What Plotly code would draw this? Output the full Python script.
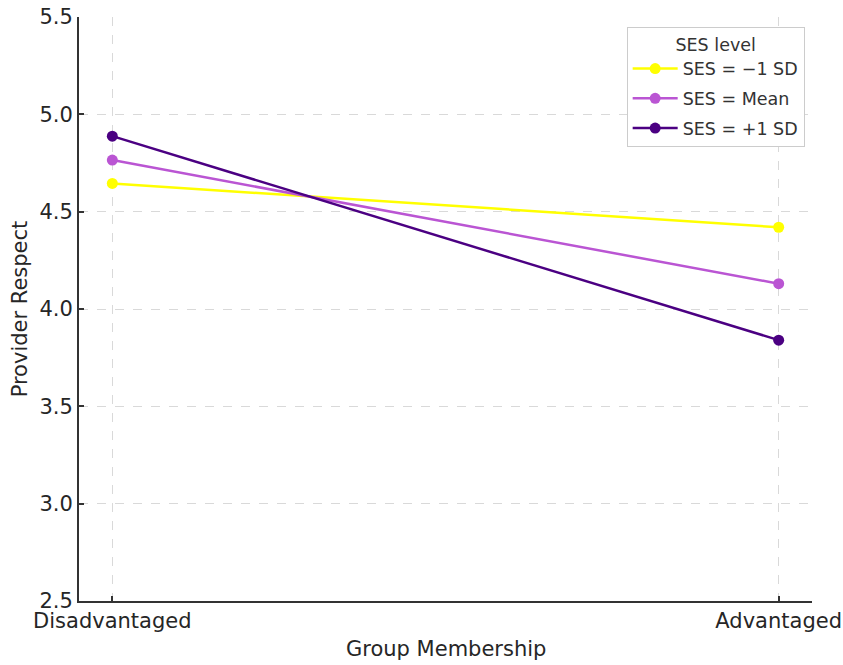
import plotly.graph_objects as go

# Simple-slopes data: provider respect by group membership at three SES levels
groups = ["Disadvantaged", "Advantaged"]
ses_labels = ["SES = \u22121 SD", "SES = Mean", "SES = +1 SD"]
ses_low = [4.645, 4.42]
ses_mean = [4.765, 4.13]
ses_high = [4.888, 3.84]
series_colors = ["#FFFF00", "#BA55D3", "#4B0082"]

y_ticks = [2.5, 3.0, 3.5, 4.0, 4.5, 5.0, 5.5]

x_title = "Group Membership"
y_title = "Provider Respect"

x_pos = list(range(len(groups)))

fig = go.Figure()
for i, (name, vals, col) in enumerate(zip(ses_labels, [ses_low, ses_mean, ses_high], series_colors)):
    fig.add_trace(go.Scatter(
        x=x_pos, y=vals, name=name, mode="lines+markers",
        line=dict(color=col, width=2.5),
        marker=dict(color=col, size=11),
        legendgroup=f"g{i}",
    ))

font_family = "DejaVu Sans"
text_col = "#262626"

# Axis titles placed as paper-anchored annotations (axes use fixed margins)
fig.add_annotation(
    text=x_title, xref="paper", yref="paper", x=0.5, y=-0.082,
    xanchor="center", yanchor="middle", showarrow=False,
    font=dict(size=21, color=text_col),
)
fig.add_annotation(
    text=y_title, xref="paper", yref="paper", x=-0.08, y=0.5,
    xanchor="center", yanchor="middle", showarrow=False, textangle=-90,
    font=dict(size=21, color=text_col),
)

fig.update_layout(
    width=843, height=665,
    margin=dict(l=79, r=31, t=17, b=64),
    paper_bgcolor="white", plot_bgcolor="white",
    font=dict(family=font_family, size=21, color=text_col),
    showlegend=True,
    legend=dict(
        title=dict(text="SES level", side="top center", font=dict(size=17.5, color="#333")),
        font=dict(size=17.5, color="#333"),
        x=0.990, y=0.983, xanchor="right", yanchor="top",
        bgcolor="white", bordercolor="#cccccc", borderwidth=1,
        tracegroupgap=4, itemwidth=45,
    ),
    xaxis=dict(
        range=[-0.05, 1.05], automargin=False,
        tickmode="array", tickvals=x_pos, ticktext=groups,
        ticks="inside", ticklen=5, tickcolor="#333", tickwidth=1.5,
        showline=True, linecolor="#333", linewidth=2,
        showgrid=True, gridcolor="#d9d9d9", gridwidth=1, griddash="dash",
        zeroline=False,
        tickfont=dict(size=21, color=text_col),
    ),
    yaxis=dict(
        range=[2.5, 5.5], automargin=False,
        tickmode="array", tickvals=y_ticks, ticktext=[f"{v:.1f}" for v in y_ticks],
        ticks="inside", ticklen=5, tickcolor="#333", tickwidth=1.5,
        showline=True, linecolor="#333", linewidth=2,
        showgrid=True, gridcolor="#d9d9d9", gridwidth=1, griddash="dash",
        zeroline=False,
        tickfont=dict(size=21, color=text_col),
    ),
)

fig.write_html("out.html")
